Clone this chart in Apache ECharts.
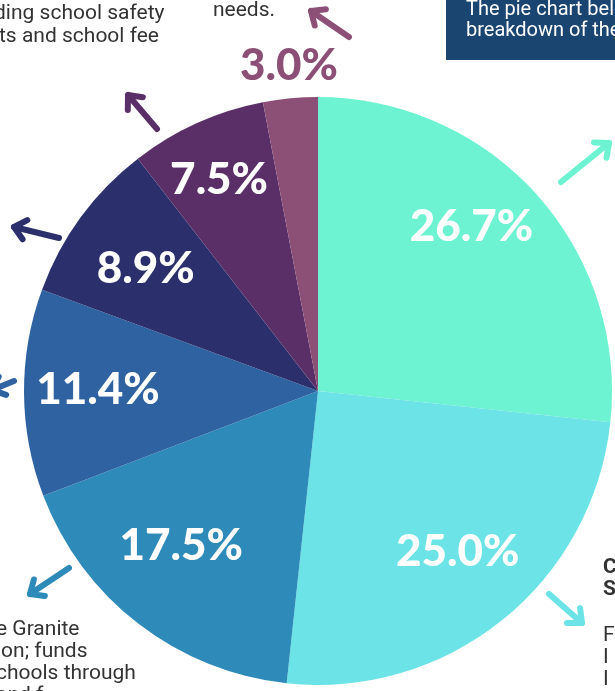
<!DOCTYPE html>
<html>
<head>
<meta charset="utf-8">
<script src="https://cdn.jsdelivr.net/npm/echarts@6/dist/echarts.min.js"></script>
<style>
  html, body { margin: 0; padding: 0; background: #fff; }
  #pieChart { width: 615px; height: 691px; }
</style>
</head>
<body>
<div id="pieChart"></div>
<script>
// slices, clockwise from 12 o'clock
const categories = ['s1', 's2', 's3', 's4', 's5', 's6', 's7']
const shares = [26.7, 25.0, 17.5, 11.4, 8.9, 7.5, 3.0]
const colors = ['#6df2d2', '#6ce3e6', '#2d8ab9', '#2e62a1', '#2b306c', '#5a2f68', '#8c5077']

const center = [318, 391]
const R = 294

const chart = echarts.init(document.querySelector('#pieChart'))

const pieData = categories.map((c, i) => ({ name: c, value: shares[i], itemStyle: { color: colors[i] } }))
const fmt = (p) => p.value.toFixed(1) + '%'
const pctFont = { fontFamily: 'Lato', fontWeight: 900, fontSize: 44 }
// small hand nudges so labels sit like the original layout
const nudges = [[-11, -16], [1, -11], [-2, -20], [1, -3], [6, 8], [-8, -10], [2, 3]]

// arrow: shaft + open head
function arrow(tail, tip, color) {
  const dx = tip[0] - tail[0], dy = tip[1] - tail[1]
  const a = Math.atan2(dy, dx)
  const h = 15, w = 0.72
  const p1 = [tip[0] - h * Math.cos(a - w), tip[1] - h * Math.sin(a - w)]
  const p2 = [tip[0] - h * Math.cos(a + w), tip[1] - h * Math.sin(a + w)]
  const style = { stroke: color, lineWidth: 6, lineCap: 'round', lineJoin: 'round', fill: null }
  return [
    { type: 'line', shape: { x1: tail[0], y1: tail[1], x2: tip[0], y2: tip[1] }, style },
    { type: 'polyline', shape: { points: [p1, tip, p2] }, style }
  ]
}

function txt(x, y, s, opt) {
  return { type: 'text', x, y, style: Object.assign({ text: s, fontFamily: 'Roboto', fontSize: 21, fill: '#333', textVerticalAlign: 'middle' }, opt || {}) }
}

const graphics = [
  { type: 'rect', shape: { x: 446, y: -5, width: 175, height: 65 }, style: { fill: '#1a4570' } },
  txt(466, 10, 'The pie chart below', { fill: '#fff', fontSize: 20 }),
  txt(466, 31, 'breakdown of the', { fill: '#fff', fontSize: 20 }),
  txt(-6, 14, 'ding school safety'),
  txt(-1, 37, 'ts and school fee'),
  txt(213, 11, 'needs.'),
  txt(-4, 630, 'e Granite'),
  txt(-4, 652, 'ion; funds'),
  txt(-4, 674, 'chools through'),
  txt(-4, 696, 'and f'),
  txt(603, 568, 'C', { fontWeight: 'bold' }),
  txt(603, 590, 'S', { fontWeight: 'bold' }),
  txt(603, 636, 'F'),
  txt(603, 658, 'I'),
  txt(603, 680, 'I'),
  txt(340, 661, '13', { fontSize: 24, fill: '#111' }),
  ...arrow([561, 182], [609, 143], colors[0]),
  ...arrow([549, 594], [582, 623], colors[1]),
  ...arrow([69, 568], [30, 594], colors[2]),
  ...arrow([14, 381], [-8, 390], colors[3]),
  ...arrow([59, 238], [14, 227], colors[4]),
  ...arrow([157, 129], [128, 95], colors[5]),
  ...arrow([349, 37], [311, 11], colors[6])
]

chart.setOption({
  animation: false,
  graphic: graphics,
  series: [
    {
      type: 'pie',
      center,
      radius: [0, R],
      startAngle: 90,
      silent: true,
      label: { show: false },
      labelLine: { show: false },
      itemStyle: { borderWidth: 0 },
      data: pieData
    },
    {
      // white percentage labels
      type: 'pie',
      center,
      radius: [193, 243],
      startAngle: 90,
      silent: true,
      itemStyle: { color: 'transparent' },
      labelLine: { show: false },
      label: Object.assign({ show: true, position: 'inside', color: '#fff', formatter: fmt }, pctFont),
      data: shares.map((v, i) => ({ name: categories[i], value: v, label: { show: i < 6, offset: nudges[i] } }))
    },
    {
      // small slice label outside the pie
      type: 'pie',
      center,
      radius: [308, 346],
      startAngle: 90,
      silent: true,
      itemStyle: { color: 'transparent' },
      labelLine: { show: false },
      label: Object.assign({ show: true, position: 'inside', color: colors[6], formatter: fmt }, pctFont),
      data: shares.map((v, i) => ({ name: categories[i], value: v, label: { show: i === 6, offset: nudges[i] } }))
    }
  ]
})
</script>
</body>
</html>
